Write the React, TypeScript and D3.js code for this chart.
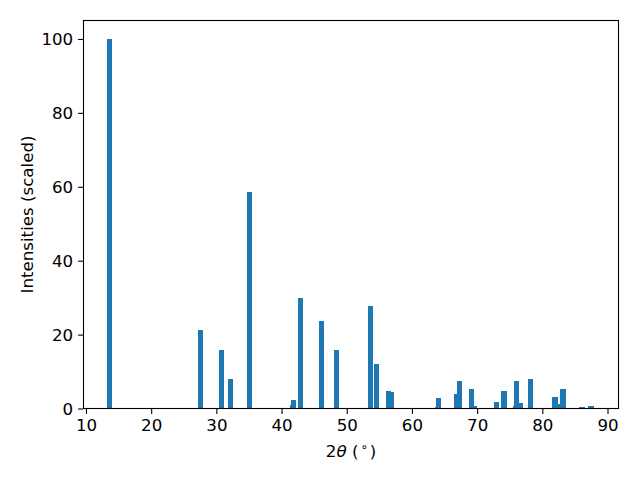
import React, { useRef, useEffect } from "react";
import * as d3 from "d3";

// peak positions (2θ, degrees) and scaled intensities
const twoTheta = [
  13.5, 27.47, 30.69, 32.07, 34.98, 41.59, 41.72, 42.8, 46.02, 48.31, 53.6,
  54.44, 54.73, 56.28, 56.73, 63.81, 63.95, 66.72, 67.16, 69.0, 69.45, 72.84,
  74.06, 74.2, 75.76, 75.98, 76.5, 78.12, 81.88, 82.49, 83.1, 86.02, 87.4,
];
const intensity = [
  100, 21.4, 16.0, 8.1, 58.8, 1.1, 2.4, 30.1, 23.8, 16.0, 27.9, 12.2, 0.3, 4.9,
  4.6, 0.5, 3.0, 4.1, 7.6, 5.4, 0.8, 1.9, 4.9, 0.3, 0.8, 7.6, 1.6, 8.1, 3.3,
  1.4, 5.4, 0.6, 0.8,
];
const xTicks = [10, 20, 30, 40, 50, 60, 70, 80, 90];
const yTicks = [0, 20, 40, 60, 80, 100];
const xLimits = [9.54, 91.61];
const yLimits = [0, 105];
const barWidth = 0.8;
const yLabel = "Intensities (scaled)";

const W = 640;
const H = 480;
const m = { left: 83.5, right: 618.5, top: 20.5, bottom: 408.5 };
const font = "DejaVu Sans";
const fs = 16.67;
const tick = 4.9;

export default function App() {
  const svgRef = useRef<SVGSVGElement>(null);

  useEffect(() => {
    document.body.style.margin = "0";
    const svg = d3.select(svgRef.current);
    svg.selectAll("*").remove();

    //scales
    const x = d3.scaleLinear().domain(xLimits).range([m.left, m.right]);
    const y = d3.scaleLinear().domain(yLimits).range([409, m.top + 0.5]);

    //bars
    svg
      .append("g")
      .selectAll("rect")
      .data(twoTheta)
      .join("rect")
      .attr("x", (d) => x(d - barWidth / 2))
      .attr("width", (d) => x(d + barWidth / 2) - x(d - barWidth / 2))
      .attr("y", (d, i) => y(intensity[i]))
      .attr("height", (d, i) => y(0) - y(intensity[i]))
      .attr("fill", "#1f77b4")
      .attr("shape-rendering", "crispEdges");

    //axes
    const xAxis = d3
      .axisBottom(x)
      .tickValues(xTicks)
      .tickSize(tick)
      .tickPadding(tick)
      .tickSizeOuter(0)
      .offset(0);
    const gx = svg
      .append("g")
      .attr("transform", `translate(0,${m.bottom + 0.5})`)
      .call(xAxis);
    gx.select(".domain").remove();
    gx.selectAll("line").attr("stroke", "#000").attr("stroke-width", 1.1);
    gx.selectAll("text")
      .attr("dy", "0.76em")
      .attr("fill", "#000")
      .attr("font-family", font)
      .attr("font-size", fs);

    const yAxis = d3
      .axisLeft(y)
      .tickValues(yTicks)
      .tickSize(tick)
      .tickPadding(tick)
      .tickSizeOuter(0)
      .offset(0);
    const gy = svg
      .append("g")
      .attr("transform", `translate(${m.left - 0.5},0)`)
      .call(yAxis);
    gy.select(".domain").remove();
    gy.selectAll("line").attr("stroke", "#000").attr("stroke-width", 1.1);
    gy.selectAll("text")
      .attr("dy", "0.36em")
      .attr("fill", "#000")
      .attr("font-family", font)
      .attr("font-size", fs);

    //spines
    svg
      .append("rect")
      .attr("x", m.left)
      .attr("y", m.top)
      .attr("width", m.right - m.left)
      .attr("height", m.bottom - m.top)
      .attr("fill", "none")
      .attr("stroke", "#000")
      .attr("stroke-width", 1.1);

    //labels
    const xl = svg
      .append("text")
      .attr("x", (m.left + m.right) / 2)
      .attr("y", 456.5)
      .attr("text-anchor", "middle")
      .attr("font-family", font)
      .attr("font-size", fs)
      .attr("fill", "#000");
    xl.append("tspan").text("2");
    xl.append("tspan").attr("font-style", "italic").text("θ");
    xl.append("tspan").text(" (");
    xl.append("tspan")
      .attr("font-size", fs * 0.7)
      .attr("dx", 2)
      .attr("dy", -6)
      .text("∘");
    xl.append("tspan").attr("dx", 2).attr("dy", 6).text(")");

    svg
      .append("text")
      .attr("transform", `translate(33,${(m.top + m.bottom) / 2}) rotate(-90)`)
      .attr("text-anchor", "middle")
      .attr("font-family", font)
      .attr("font-size", fs)
      .attr("fill", "#000")
      .text(yLabel);
  }, []);

  return (
    <svg ref={svgRef} width={W} height={H} style={{ display: "block" }}></svg>
  );
}
